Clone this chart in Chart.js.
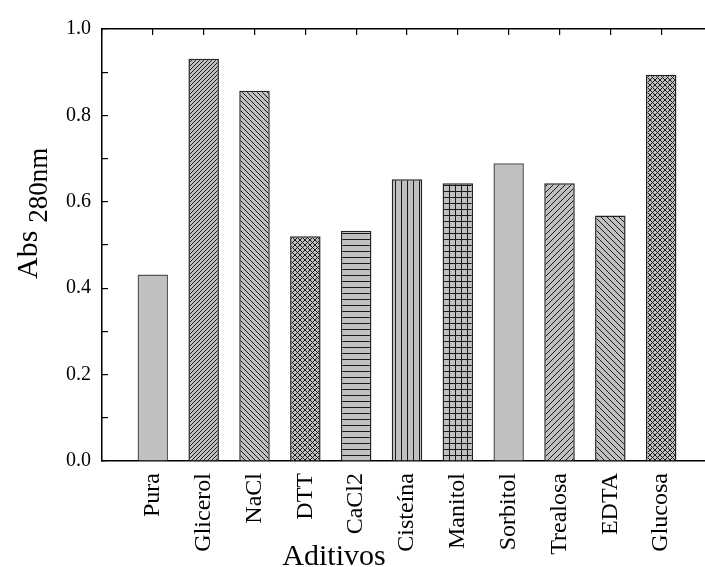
<!DOCTYPE html>
<html>
<head>
<meta charset="utf-8">
<script src="https://cdn.jsdelivr.net/npm/chart.js@4/dist/chart.umd.min.js"></script>
<style>
  body { margin: 0; overflow: hidden; background: #fff; }
</style>
</head>
<body>
<canvas id="absChart" width="720" height="567"></canvas>
<script>
// Data
const aditivos = ['Pura', 'Glicerol', 'NaCl', 'DTT', 'CaCl2', 'Cisteína', 'Manitol', 'Sorbitol', 'Trealosa', 'EDTA', 'Glucosa'];
const abs280 = [0.432, 0.931, 0.857, 0.520, 0.533, 0.652, 0.643, 0.689, 0.643, 0.568, 0.894];
const hatchKind = ['solid', 'fwd4', 'back5', 'cross', 'horiz', 'vert', 'grid', 'solid', 'fwd6', 'back6', 'cross'];
const yTicks = [0.0, 0.2, 0.4, 0.6, 0.8, 1.0];

const FILL = '#c0c0c0';
const INK = '#1a1a1a';

// small repeating tiles for the hatch fills
function makePattern(kind) {
    if (kind === 'solid') return FILL;
    let s = 6;
    if (kind === 'fwd4') s = 4;
    if (kind === 'back5' || kind === 'cross') s = 5;
    const c = document.createElement('canvas');
    c.width = s; c.height = s;
    const g = c.getContext('2d');
    g.fillStyle = FILL;
    g.fillRect(0, 0, s, s);
    g.strokeStyle = INK;
    g.lineWidth = 1;
    const fwd = () => {
        g.beginPath();
        g.moveTo(-1, s + 1); g.lineTo(s + 1, -1);
        g.moveTo(-1, 1); g.lineTo(1, -1);
        g.moveTo(s - 1, s + 1); g.lineTo(s + 1, s - 1);
        g.stroke();
    };
    const back = () => {
        g.beginPath();
        g.moveTo(-1, -1); g.lineTo(s + 1, s + 1);
        g.moveTo(s - 1, -1); g.lineTo(s + 1, 1);
        g.moveTo(-1, s - 1); g.lineTo(1, s + 1);
        g.stroke();
    };
    if (kind === 'fwd4' || kind === 'fwd6') fwd();
    if (kind === 'back5' || kind === 'back6') back();
    if (kind === 'cross') { fwd(); back(); }
    if (kind === 'horiz' || kind === 'grid') {
        g.beginPath(); g.moveTo(0, s - 0.5); g.lineTo(s, s - 0.5); g.stroke();
    }
    if (kind === 'vert' || kind === 'grid') {
        g.beginPath(); g.moveTo(s - 0.5, 0); g.lineTo(s - 0.5, s); g.stroke();
    }
    return g.createPattern(c, 'repeat');
}

// one empty slot on each side so the first bar sits a full slot from the axis
const labels = [''].concat(aditivos, ['']);
const values = [null].concat(abs280, [null]);
const fills = [FILL].concat(hatchKind.map(makePattern), [FILL]);
const borders = ['#000'].concat(hatchKind.map(k => k === 'solid' ? '#555' : '#222'), ['#000']);

const serif = 'Liberation Serif';
Chart.defaults.font.family = serif;
Chart.defaults.color = '#000';

// y title with subscript and the x title, drawn on the canvas
const titlesPlugin = {
    id: 'titles',
    afterDraw(chart) {
        const ctx = chart.ctx;
        ctx.save();
        ctx.fillStyle = '#000';
        ctx.translate(37, 279);
        ctx.rotate(-Math.PI / 2);
        ctx.textAlign = 'left';
        ctx.textBaseline = 'alphabetic';
        ctx.font = '30px "' + serif + '"';
        ctx.fillText('Abs', 0, 0);
        const w = ctx.measureText('Abs').width;
        ctx.font = '27px "' + serif + '"';
        ctx.fillText('280nm', w + 8, 10);
        ctx.restore();

        ctx.save();
        ctx.fillStyle = '#000';
        ctx.font = '30px "' + serif + '"';
        ctx.textAlign = 'center';
        ctx.textBaseline = 'alphabetic';
        ctx.fillText('Aditivos', 334, 565);
        ctx.restore();
    }
};

function noSidePadding(scale) {
    scale.paddingLeft = 0;
    scale.paddingRight = 0;
}

const ctx = document.getElementById('absChart').getContext('2d');
new Chart(ctx, {
    type: 'bar',
    data: {
        labels: labels,
        datasets: [{
            data: values,
            backgroundColor: fills,
            borderColor: borders,
            borderWidth: 1.5,
            categoryPercentage: 1,
            barPercentage: 0.6
        }]
    },
    options: {
        responsive: false,
        animation: false,
        layout: { padding: { top: 0, left: 0, right: 8, bottom: 0 } },
        plugins: {
            legend: { display: false },
            tooltip: { enabled: false }
        },
        scales: {
            x: {
                type: 'category',
                position: 'bottom',
                offset: false,
                grid: { drawOnChartArea: false, drawTicks: false, offset: false },
                border: { display: true, color: '#000', width: 1.5 },
                ticks: {
                    autoSkip: false,
                    minRotation: 90,
                    maxRotation: 90,
                    padding: 12,
                    font: { size: 24 }
                },
                afterFit(scale) { scale.height = 106; noSidePadding(scale); }
            },
            xTop: {
                type: 'category',
                position: 'top',
                labels: labels,
                offset: false,
                grid: { drawOnChartArea: false, drawTicks: true, tickLength: -6, offset: false, color: '#000', lineWidth: 1.2 },
                border: { display: true, color: '#000', width: 1.5 },
                ticks: { display: false },
                afterFit(scale) { scale.height = 23; noSidePadding(scale); }
            },
            y: {
                min: 0,
                max: 1,
                grid: { drawOnChartArea: false, drawTicks: true, tickLength: -6, color: '#000', lineWidth: 1.2 },
                border: { display: true, color: '#000', width: 1.5 },
                ticks: {
                    stepSize: 0.1,
                    padding: 17,
                    font: { size: 20 },
                    callback(v) {
                        const hit = yTicks.find(t => Math.abs(t - v) < 1e-6);
                        return hit === undefined ? '' : hit.toFixed(1);
                    }
                },
                afterFit(scale) { scale.width = 102; }
            }
        }
    },
    plugins: [titlesPlugin]
});
</script>
</body>
</html>
